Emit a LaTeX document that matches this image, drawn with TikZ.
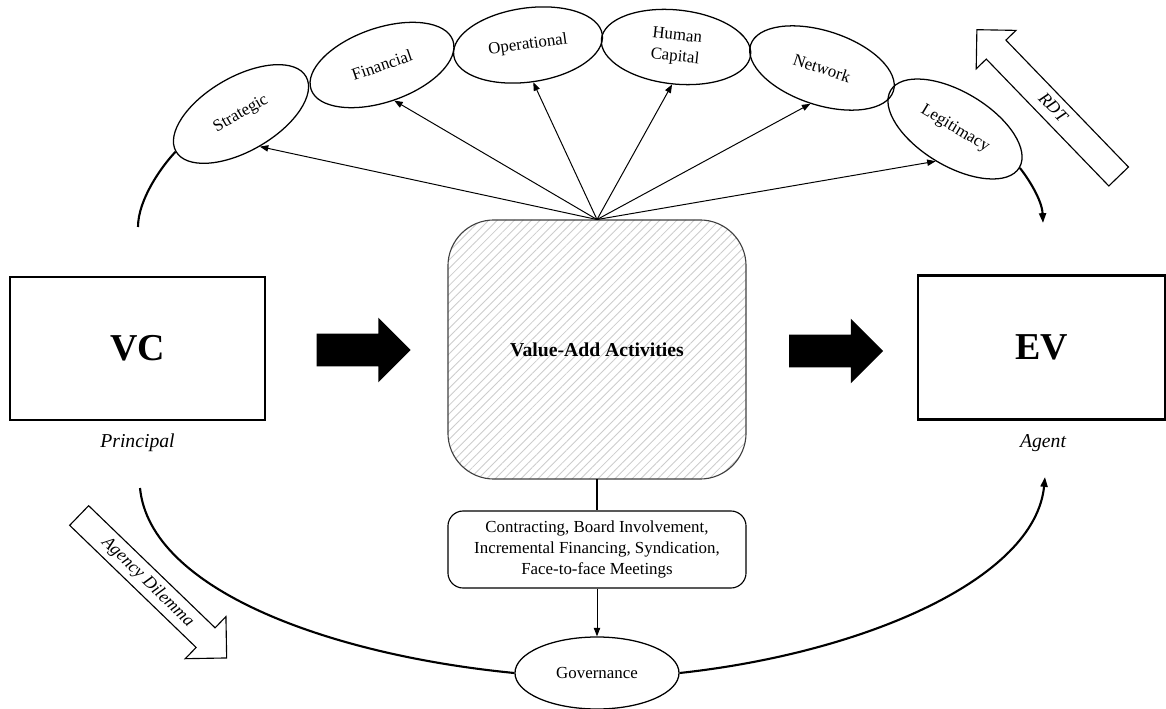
\documentclass[tikz,border=0pt]{standalone}
\usepackage{fontspec}
\setmainfont{Liberation Serif}
\usetikzlibrary{shapes.geometric,shapes.arrows,patterns.meta,arrows.meta}

\tikzset{
  party/.style={draw, line width=1.6pt, inner sep=0pt, font=\fontsize{27}{30}\selectfont\bfseries},
  role/.style={font=\fontsize{14}{16}\selectfont\itshape},
  resource/.style={ellipse, draw, line width=0.9pt, minimum width=3.75cm, minimum height=1.85cm,
    inner sep=0pt, align=center, font=\fontsize{12}{15}\selectfont},
  fanarrow/.style={-{Triangle[length=6pt,width=4.5pt]}, line width=0.7pt},
  flowarc/.style={line width=1.5pt},
  blockarrow/.style={single arrow, fill=black, inner xsep=0pt, inner ysep=0.4cm,
    minimum height=2.35cm, minimum width=1.6cm, single arrow head extend=0.4cm},
  theory/.style={single arrow, draw, fill=white, line width=0.8pt, inner xsep=0pt,
    inner ysep=0.125cm, text height=9pt, text depth=2.5pt,
    font=\fontsize{12.5}{14}\selectfont\itshape}
}

\begin{document}
\begin{tikzpicture}[x=0.025cm, y=-0.025cm]
\useasboundingbox (0,0) rectangle (1166,709);

\node[party, minimum width=6.375cm, minimum height=3.575cm] (vc) at (137.5,348.5) {VC};
\node[party, minimum width=6.175cm, minimum height=3.6cm] (ev) at (1041.5,347.5) {EV};
\node[role] (principal) at (137.5,443) {Principal};
\node[role] (agent) at (1043,443) {Agent};

\node[draw=black!75, line width=0.8pt, rounded corners=1.15cm,
  pattern={Lines[angle=45, distance=4.3pt, line width=0.6pt]}, pattern color=black!20,
  minimum width=7.45cm, minimum height=6.475cm,
  font=\fontsize{14}{16}\selectfont\bfseries] (va) at (597,349.5) {Value-Add Activities};

\node[blockarrow] (push1) at (355.5,350) {};
\node[blockarrow] (push2) at (828,351) {};

\node[draw, rounded corners=0.38cm, line width=0.8pt, minimum width=7.45cm, minimum height=1.925cm,
  align=center, font=\fontsize{12}{15}\selectfont] (gm) at (597,549.5)
  {Contracting, Board Involvement,\\ Incremental Financing, Syndication,\\ Face-to-face Meetings};
\node[resource, minimum width=4.1cm, minimum height=1.8cm] (gov) at (597,673) {Governance};

% resources on top of the value-add box
\foreach \name/\x/\y/\r/\txt in {strat/241/114/30/Strategic, fin/382/65/19/Financial,
  oper/528/45/8/Operational, hum/676/47/-6/{Human\\Capital}, net/822/68/-18/Network,
  leg/955/129/-31/Legitimacy}
  \node[resource, rotate=\r] (\name) at (\x,\y) {\txt};

\foreach \name in {strat,fin,oper,hum,net,leg}
  \draw[fanarrow] (va.north) -- (\name.south);

\draw[line width=0.8pt] (va.south) -- (gm.north);
\draw[fanarrow] (gm.south) -- (gov.north);

% theory arrows
\node[theory, minimum height=5.1cm, minimum width=1.375cm, single arrow head extend=0.35cm,
  shape border rotate=180, rotate=-46] (rdt) at (1052.5,108) {RDT};
\node[theory, minimum height=5.125cm, minimum width=1.415cm, single arrow head extend=0.39cm,
  rotate=-44] (agency) at (148,582) {Agency Dilemma};

% arcs
\coordinate (ulend) at (138,227);
\coordinate (urend) at (1043,223);
\coordinate (llstart) at (140,488);
\coordinate (lrend) at (1045,477);
\draw[flowarc] (strat.west) .. controls (161,167) and (138,200) .. (ulend);
\draw[flowarc, -{Triangle[length=7pt,width=5pt]}] (leg.east) .. controls (1028,178) and (1042,200) .. (urend);
\draw[flowarc] (llstart) .. controls (150,590) and (330,655) .. (gov.west);
\draw[flowarc, -{Triangle[length=7pt,width=5pt]}] (gov.east) .. controls (864,653) and (1035,579) .. (lrend);
\end{tikzpicture}
\end{document}
